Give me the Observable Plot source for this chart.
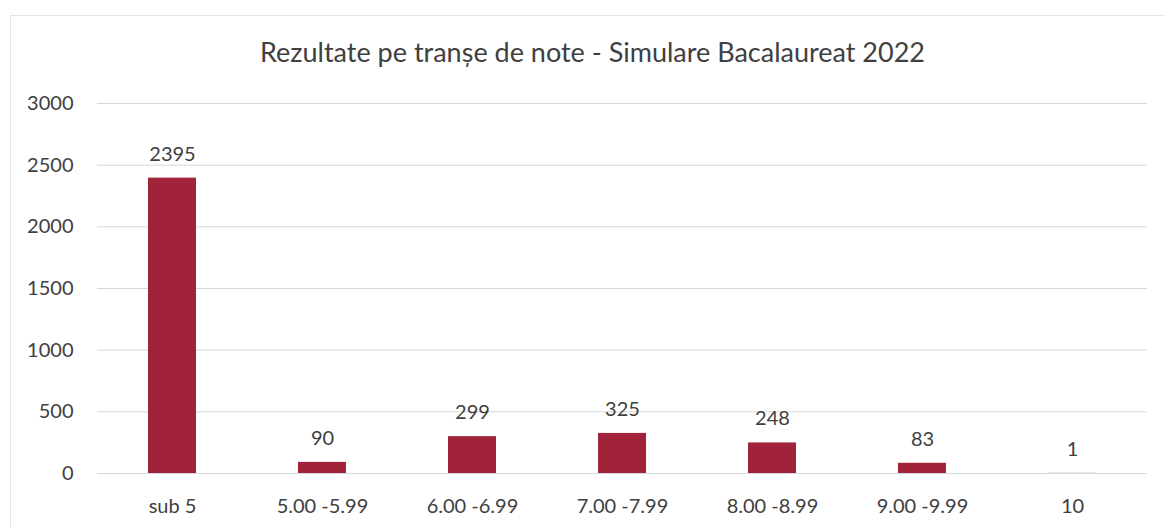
<!DOCTYPE html>
<html>
<head>
<meta charset="utf-8">
<script src="https://cdn.jsdelivr.net/npm/d3@7"></script>
<script src="https://cdn.jsdelivr.net/npm/@observablehq/plot@0.6"></script>
<style>
  html, body { margin: 0; padding: 0; background: #fff; }
  #wrap { position: relative; width: 1165px; height: 528px; overflow: hidden; }
  #border { position: absolute; left: 10px; top: 15px; width: 1170px; height: 530px; border-left: 1px solid #e4e6e6; border-top: 1px solid #e4e6e6; }
  #chart { position: absolute; left: 0; top: 0; }
</style>
</head>
<body>
<div id="wrap"><div id="border"></div><div id="chart"></div></div>
<script>
const categories = ["sub 5", "5.00 -5.99", "6.00 -6.99", "7.00 -7.99", "8.00 -8.99", "9.00 -9.99", "10"];
const values = [2395, 90, 299, 325, 248, 83, 1];
const yTicks = [0, 500, 1000, 1500, 2000, 2500, 3000];
const title = "Rezultate pe tranșe de note - Simulare Bacalaureat 2022";

const data = categories.map((c, i) => ({category: c, value: values[i]}));
const font = "Lato, 'Open Sans', sans-serif";

const chart = Plot.plot({
  width: 1165,
  height: 528,
  marginLeft: 97,
  marginRight: 18,
  marginTop: 103,
  marginBottom: 55,
  style: {fontFamily: font, fontSize: "20px", color: "#404040", background: "transparent"},
  x: {domain: categories, paddingInner: 0.68, paddingOuter: 0.34, label: null, tickSize: 0, tickPadding: 25},
  y: {domain: [0, 3000], ticks: yTicks, tickFormat: d => String(d), label: null, tickSize: 0, tickPadding: 24},
  marks: [
    Plot.gridY(yTicks, {stroke: "#d3dadc", strokeOpacity: 1, strokeWidth: 1}),
    Plot.barY(data, {x: "category", y: "value", fill: "#a1233a"}),
    Plot.text(data, {x: "category", y: "value", text: d => String(d.value), dy: -24, fill: "#404040", fontSize: 20}),
    Plot.text([title], {frameAnchor: "top", dy: -61, dx: -30, fontSize: 27, fill: "#404040"})
  ]
});
document.getElementById("chart").appendChild(chart);
</script>
</body>
</html>
